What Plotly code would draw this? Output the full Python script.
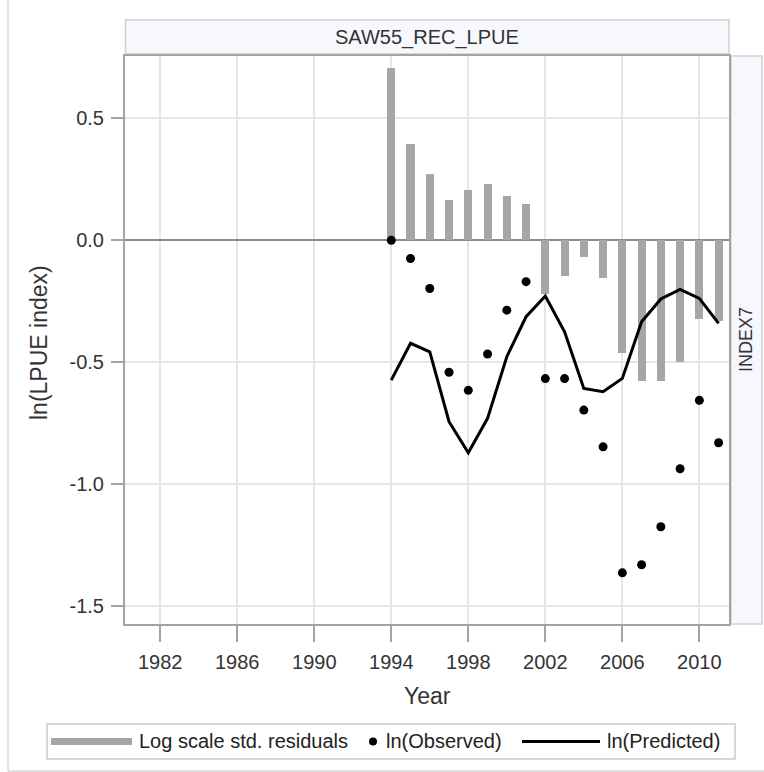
import plotly.graph_objects as go

years = list(range(1994, 2012))
residuals = [0.705, 0.393, 0.270, 0.165, 0.206, 0.229, 0.181, 0.148, -0.22,
             -0.147, -0.070, -0.154, -0.462, -0.578, -0.578, -0.499, -0.325, -0.33]
observed = [0.0, -0.075, -0.198, -0.542, -0.616, -0.467, -0.287, -0.170, -0.568,
            -0.568, -0.697, -0.848, -1.365, -1.332, -1.176, -0.938, -0.657, -0.831]
predicted = [-0.574, -0.423, -0.458, -0.745, -0.872, -0.731, -0.478, -0.314, -0.229,
             -0.376, -0.608, -0.622, -0.567, -0.335, -0.241, -0.202, -0.239, -0.341]

x_ticks = [1982, 1986, 1990, 1994, 1998, 2002, 2006, 2010]
y_ticks = [-1.5, -1.0, -0.5, 0.0, 0.5]
y_tick_text = ["-1.5", "-1.0", "-0.5", "0.0", "0.5"]

panel_title = "SAW55_REC_LPUE"
row_label = "INDEX7"
legend_names = ["Log scale std. residuals", "ln(Observed)", "ln(Predicted)"]

FONT = "Liberation Sans, Arial, sans-serif"
W, H = 764, 772
L, R, T, B = 125, 35, 56, 148
PW, PH = W - L - R, H - T - B


def px(x):
    return (x - L) / PW


def py(y):
    return (H - B - y) / PH


fig = go.Figure()
fig.add_trace(go.Bar(x=years, y=residuals, width=0.42, marker=dict(color="#a6a6a6", line=dict(width=0)),
                     name=legend_names[0], showlegend=False))
fig.add_trace(go.Scatter(x=years, y=predicted, mode="lines", line=dict(color="black", width=3),
                         name=legend_names[2], showlegend=False))
fig.add_trace(go.Scatter(x=years, y=observed, mode="markers", marker=dict(color="black", size=9),
                         name=legend_names[1], showlegend=False))

shapes = []
# header strip
shapes.append(dict(type="rect", xref="paper", yref="paper", x0=px(125.5), x1=px(729), y0=py(54), y1=py(20),
                   fillcolor="#f7f8fd", line=dict(color="#cfcfcf", width=1.5), layer="below"))
# right strip
shapes.append(dict(type="rect", xref="paper", yref="paper", x0=px(731), x1=px(762), y0=0, y1=1,
                   fillcolor="#f7f8fd", line=dict(color="#cfcfcf", width=1.5), layer="below"))
# outer border (left and bottom)
shapes.append(dict(type="line", xref="paper", yref="paper", x0=px(8), x1=px(8), y0=py(0), y1=py(771),
                   line=dict(color="#d9d9d9", width=1.5)))
shapes.append(dict(type="line", xref="paper", yref="paper", x0=px(8), x1=px(764), y0=py(771), y1=py(771),
                   line=dict(color="#d9d9d9", width=1.5)))
# legend box
shapes.append(dict(type="rect", xref="paper", yref="paper", x0=px(47), x1=px(735), y0=py(759), y1=py(724),
                   fillcolor="white", line=dict(color="#cccccc", width=1.5)))
shapes.append(dict(type="line", xref="paper", yref="paper", x0=px(51), x1=px(132), y0=py(741.5), y1=py(741.5),
                   line=dict(color="#a6a6a6", width=7)))
shapes.append(dict(type="circle", xref="paper", yref="paper", x0=px(369), x1=px(377), y0=py(745.5), y1=py(737.5),
                   fillcolor="black", line=dict(color="black", width=0)))
shapes.append(dict(type="line", xref="paper", yref="paper", x0=px(522), x1=px(600), y0=py(741.5), y1=py(741.5),
                   line=dict(color="black", width=3)))

annotations = [
    dict(text=panel_title, xref="paper", yref="paper", x=0.5, y=py(37.5), showarrow=False,
         font=dict(family=FONT, size=20, color="#333333"), xanchor="center", yanchor="middle"),
    dict(text=row_label, xref="paper", yref="paper", x=px(746), y=0.5, showarrow=False, textangle=-90,
         font=dict(family=FONT, size=18, color="#333333"), xanchor="center", yanchor="middle"),
    dict(text="ln(LPUE index)", xref="paper", yref="paper", x=px(39), y=py(343), showarrow=False, textangle=-90,
         font=dict(family=FONT, size=23, color="#333333"), xanchor="center", yanchor="middle"),
    dict(text="Year", xref="paper", yref="paper", x=0.5, y=py(696), showarrow=False,
         font=dict(family=FONT, size=23, color="#333333"), xanchor="center", yanchor="middle"),
    dict(text=legend_names[0], xref="paper", yref="paper", x=px(137), y=py(741), showarrow=False,
         font=dict(family=FONT, size=20, color="#222222"), xanchor="left", yanchor="middle"),
    dict(text=legend_names[1], xref="paper", yref="paper", x=px(384), y=py(741), showarrow=False,
         font=dict(family=FONT, size=20, color="#222222"), xanchor="left", yanchor="middle"),
    dict(text=legend_names[2], xref="paper", yref="paper", x=px(605), y=py(741), showarrow=False,
         font=dict(family=FONT, size=20, color="#222222"), xanchor="left", yanchor="middle"),
]

fig.update_layout(
    width=W, height=H,
    margin=dict(l=L, r=R, t=T, b=B, autoexpand=False),
    paper_bgcolor="white", plot_bgcolor="white",
    showlegend=False,
    shapes=shapes, annotations=annotations,
    bargap=0,
)
fig.update_xaxes(range=[1980.17, 2011.54], tickvals=x_ticks, ticktext=[str(v) for v in x_ticks],
                 showgrid=True, gridcolor="#e6e6e6", gridwidth=1.5,
                 showline=True, linecolor="#a3a3a3", linewidth=2, mirror=True,
                 ticks="outside", ticklen=16, tickwidth=1.5, tickcolor="#a3a3a3",
                 tickfont=dict(family=FONT, size=20, color="#333333"), ticklabelstandoff=3,
                 zeroline=False, automargin=False)
fig.update_yaxes(range=[-1.575, 0.756], tickvals=y_ticks, ticktext=y_tick_text,
                 showgrid=True, gridcolor="#e6e6e6", gridwidth=1.5,
                 showline=True, linecolor="#a3a3a3", linewidth=2, mirror=True,
                 ticks="outside", ticklen=12, tickwidth=1.5, tickcolor="#a3a3a3",
                 tickfont=dict(family=FONT, size=20, color="#333333"), ticklabelstandoff=3,
                 zeroline=True, zerolinecolor="#8c8c8c", zerolinewidth=1.5, automargin=False)

fig.write_html("out.html", config={"displayModeBar": False},
               post_script="document.body.style.margin='0';document.documentElement.style.overflow='hidden';")
